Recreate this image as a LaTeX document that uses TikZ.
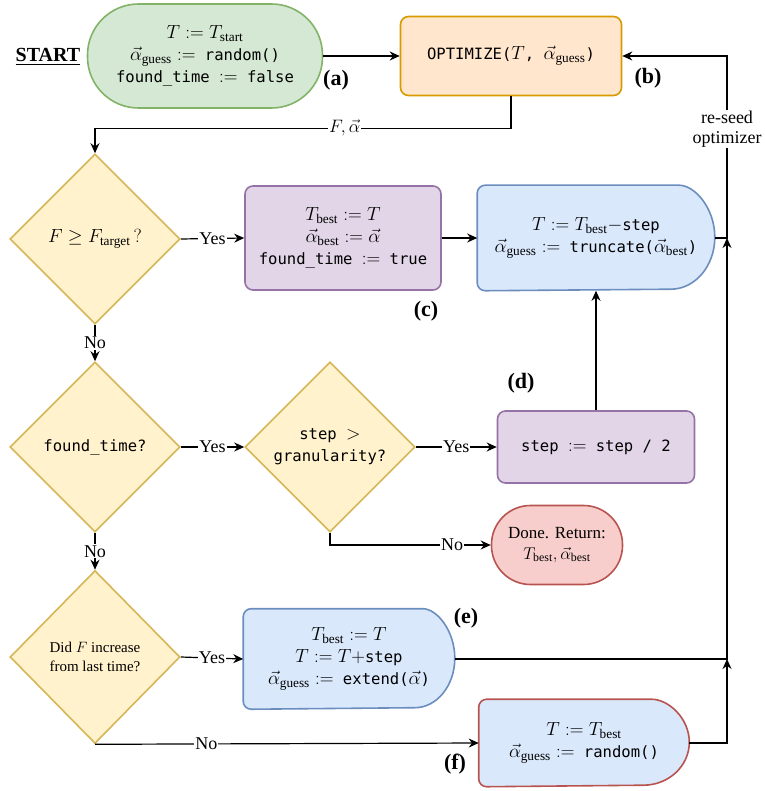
\RequirePackage{fix-cm}
\documentclass[tikz,border=0pt]{standalone}
\usepackage{amsmath, amssymb}
\usepackage[no-math]{fontspec}
\setmainfont{Liberation Serif}
\setmonofont{DejaVu Sans Mono}[Scale=0.82]
\usetikzlibrary{shapes.geometric, arrows.meta, backgrounds}

\definecolor{greenfill}{HTML}{D5E8D4}
\definecolor{greenline}{HTML}{82B366}
\definecolor{orangefill}{HTML}{FFE6CC}
\definecolor{orangeline}{HTML}{D79B00}
\definecolor{yellowfill}{HTML}{FFF2CC}
\definecolor{yellowline}{HTML}{D6B656}
\definecolor{purplefill}{HTML}{E1D5E7}
\definecolor{purpleline}{HTML}{9673A6}
\definecolor{bluefill}{HTML}{DAE8FC}
\definecolor{blueline}{HTML}{6C8EBF}
\definecolor{redfill}{HTML}{F8CECC}
\definecolor{redline}{HTML}{B85450}

\newcommand{\delayshape}[4]{%
  \begin{scope}[on background layer]
    \draw[#4, line width=1.6pt, rounded corners=8pt]
      (#1.west) |- ([xshift=-#2]#1.north east)
      [sharp corners] arc[start angle=90, end angle=-90, x radius=#2, y radius=#3]
      [rounded corners=8pt] -- (#1.south west) -- cycle;
  \end{scope}}

\tikzset{
  base/.style={font=\fontsize{19}{22}\selectfont, align=center, line width=1.6pt},
  startnode/.style={base, rectangle, rounded corners=51pt, draw=greenline, fill=greenfill, inner sep=0pt},
  optbox/.style={base, rectangle, rounded corners=8pt, draw=orangeline, fill=orangefill},
  decision/.style={base, diamond, draw=yellowline, fill=yellowfill, inner sep=1pt,
    minimum width=170pt, minimum height=170pt},
  setbox/.style={base, rectangle, rounded corners=8pt, draw=purpleline, fill=purplefill},
  delaybox/.style={base, rectangle, inner sep=0pt},
  donenode/.style={base, rectangle, rounded corners=39pt, draw=redline, fill=redfill, inner sep=0pt,
    font=\fontsize{17}{21}\selectfont},
  lab/.style={fill=white, inner sep=1pt, font=\fontsize{18}{20}\selectfont, align=center},
  tag/.style={font=\fontsize{22}{26}\selectfont\bfseries},
  arr/.style={-{Stealth[length=10pt, width=9pt]}, line width=1.2pt}
}

\begin{document}
\begin{tikzpicture}[x=1pt, y=-1pt]
  \useasboundingbox (0,0) rectangle (764,791);

  \node[font=\fontsize{20}{24}\selectfont\bfseries] (startlbl) at (48,57) {\underline{START}};
  \node[startnode, minimum width=235pt, minimum height=104pt] (init) at (205,56)
    {$T := T_{\text{start}}$\\
     $\vec{\alpha}_{\text{guess}} :=$\texttt{ random()}\\
     \texttt{found\_time }$:=$\texttt{ false}};
  \node[optbox, minimum width=221pt, minimum height=79pt] (opt) at (511,56)
    {\texttt{OPTIMIZE(}$T$\texttt{, }$\vec{\alpha}_{\text{guess}}$\texttt{)}};

  \node[decision] (dtarget) at (95,239) {$F \geq F_{\text{target}}\,?$};
  \node[setbox, minimum width=196pt, minimum height=104pt] (setbest) at (343,238)
    {$T_{\text{best}} := T$\\
     $\vec{\alpha}_{\text{best}} := \vec{\alpha}$\\
     \texttt{found\_time }$:=$\texttt{ true}};
  \node[delaybox, minimum width=236pt, minimum height=104pt] (trunc) at (596,238)
    {$T := T_{\text{best}} -$\texttt{step}\\
     $\vec{\alpha}_{\text{guess}} :=$\texttt{ truncate(}$\vec{\alpha}_{\text{best}}$\texttt{)}};
  \delayshape{trunc}{44pt}{52pt}{draw=blueline, fill=bluefill}

  \node[decision] (dfound) at (95,447) {\texttt{found\_time?}};
  \node[decision] (dgran) at (330,447) {\texttt{step }$>$\\\texttt{granularity?}};
  \node[setbox, minimum width=197pt, minimum height=72pt] (half) at (596,447)
    {\texttt{step }$:=$\texttt{ step / 2}};
  \node[donenode, minimum width=131pt, minimum height=79pt] (done) at (557,545)
    {Done. Return:\\$T_{\text{best}}, \vec{\alpha}_{\text{best}}$};

  \node[decision, minimum height=173pt, font=\fontsize{15}{19}\selectfont] (dinc) at (95,657)
    {Did $F$ increase\\from last time?};
  \node[delaybox, minimum width=210pt, minimum height=99pt] (ext) at (349,659)
    {$T_{\text{best}} := T$\\
     $T := T+$\texttt{step}\\
     $\vec{\alpha}_{\text{guess}} :=$\texttt{ extend(}$\vec{\alpha}$\texttt{)}};
  \delayshape{ext}{40pt}{49.5pt}{draw=blueline, fill=bluefill}
  \node[delaybox, minimum width=209pt, minimum height=86pt] (rand) at (584,743)
    {$T := T_{\text{best}}$\\
     $\vec{\alpha}_{\text{guess}} :=$\texttt{ random()}};
  \delayshape{rand}{46pt}{43pt}{draw=redline, fill=bluefill}

  \coordinate (j1) at (727,238);
  \coordinate (j2) at (727,659);

  \node[tag] (taga) at (336,80) {(a)};
  \node[tag] (tagb) at (648,78) {(b)};
  \node[tag] (tagc) at (426,311) {(c)};
  \node[tag] (tagd) at (521,383) {(d)};
  \node[tag] (tage) at (466,618) {(e)};
  \node[tag] (tagf) at (455,764) {(f)};

  \draw[arr] (init.east) -- (opt.west);
  \draw[arr] (opt.south) -- ++(0,32) -| node[lab, pos=0.2] {$F, \vec{\alpha}$} (dtarget.north);
  \draw[arr] (dtarget.east) -- node[lab] {Yes} (setbest.west);
  \draw[arr] (setbest.east) -- (trunc.west);
  \draw[arr] (trunc.east) -- (j1) |- node[lab, pos=0.3] {re-seed\\optimizer} (opt.east);
  \draw[arr] (dtarget.south) -- node[lab] {No} (dfound.north);
  \draw[arr] (dfound.east) -- node[lab] {Yes} (dgran.west);
  \draw[arr] (dgran.east) -- node[lab] {Yes} (half.west);
  \draw[arr] (half.north) -- (trunc.south);
  \draw[arr] (dgran.south) |- node[lab, pos=0.88] {No} (done.west);
  \draw[arr] (dfound.south) -- node[lab] {No} (dinc.north);
  \draw[arr] (dinc.east) -- node[lab] {Yes} (ext.west);
  \draw[arr] (dinc.south) -- node[lab, pos=0.29] {No} (rand.west);
  \draw[arr] (ext.east) -- (j2) -- (j1);
  \draw[arr] (rand.east) -| (j2);
\end{tikzpicture}
\end{document}
